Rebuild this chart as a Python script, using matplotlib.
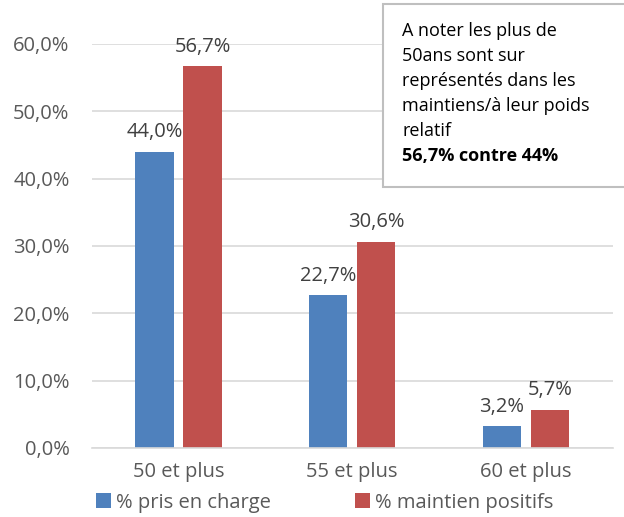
import matplotlib.pyplot as plt
import matplotlib.patches as mpatches
import numpy as np

# Données
categories = ['50 et plus', '55 et plus', '60 et plus']
pris_en_charge = [0.440, 0.227, 0.032]
maintien_positifs = [0.567, 0.306, 0.057]
yticks = [0.0, 0.1, 0.2, 0.3, 0.4, 0.5, 0.6]
ytick_labels = ['0,0%', '10,0%', '20,0%', '30,0%', '40,0%', '50,0%', '60,0%']

plt.rcParams['font.family'] = ['Open Sans', 'DejaVu Sans']

blue = '#4F81BD'
red = '#C0504D'
grey_txt = '#595959'
fs = 14.5

fig = plt.figure(figsize=(6.24, 5.17), dpi=100)
ax = fig.add_axes([0.147, 0.1335, 0.835, 0.7815])

x = np.arange(len(categories))
w = 0.22
off = 0.138
b1 = ax.bar(x - off, pris_en_charge, w, color=blue, label='% pris en charge')
b2 = ax.bar(x + off, maintien_positifs, w, color=red, label='% maintien positifs')

# Étiquettes de valeurs
for bars, vals in [(b1, pris_en_charge), (b2, maintien_positifs)]:
    for r, v in zip(bars, vals):
        ax.text(r.get_x() + r.get_width() / 2, v + 0.014,
                f'{v * 100:.1f}%'.replace('.', ','),
                ha='center', va='bottom', fontsize=fs, color='#404040',
                clip_on=False)

ax.set_xlim(-0.5, 2.5)
ax.set_ylim(0, 0.6)
ax.set_yticks(yticks)
ax.set_yticklabels(ytick_labels, fontsize=fs, color=grey_txt)
ax.set_xticks(x)
ax.set_xticklabels(categories, fontsize=fs, color=grey_txt)
ax.yaxis.grid(True, color='#D9D9D9', linewidth=1.2)
ax.set_axisbelow(True)
for s in ['top', 'right', 'left']:
    ax.spines[s].set_visible(False)
ax.spines['bottom'].set_color('#D9D9D9')
ax.spines['bottom'].set_linewidth(1.2)
ax.tick_params(axis='both', length=0)
ax.tick_params(axis='y', pad=16)
ax.tick_params(axis='x', pad=10)

# Légende
leg = fig.legend(handles=[b1, b2], loc='lower left', bbox_to_anchor=(0.124, -0.027),
                 ncol=2, frameon=False, fontsize=fs, handlelength=0.75,
                 handleheight=0.75, handletextpad=0.25, columnspacing=4.2)
for t in leg.get_texts():
    t.set_color(grey_txt)

# Encadré
rect = mpatches.Rectangle((0.614, 0.638), 0.5, 0.354, transform=fig.transFigure,
                          facecolor='white', edgecolor='#BFBFBF', linewidth=1.5)
fig.patches.append(rect)
fig.text(0.645, 0.958, 'A noter les plus de\n50ans sont sur\nreprésentés dans les\nmaintiens/à leur poids\nrelatif',
         ha='left', va='top', fontsize=13, linespacing=1.5, color='black')
fig.text(0.645, 0.715, '56,7% contre 44%', ha='left', va='top', fontsize=13,
         fontweight='bold', color='black')

fig.savefig('out.png', dpi=100)
